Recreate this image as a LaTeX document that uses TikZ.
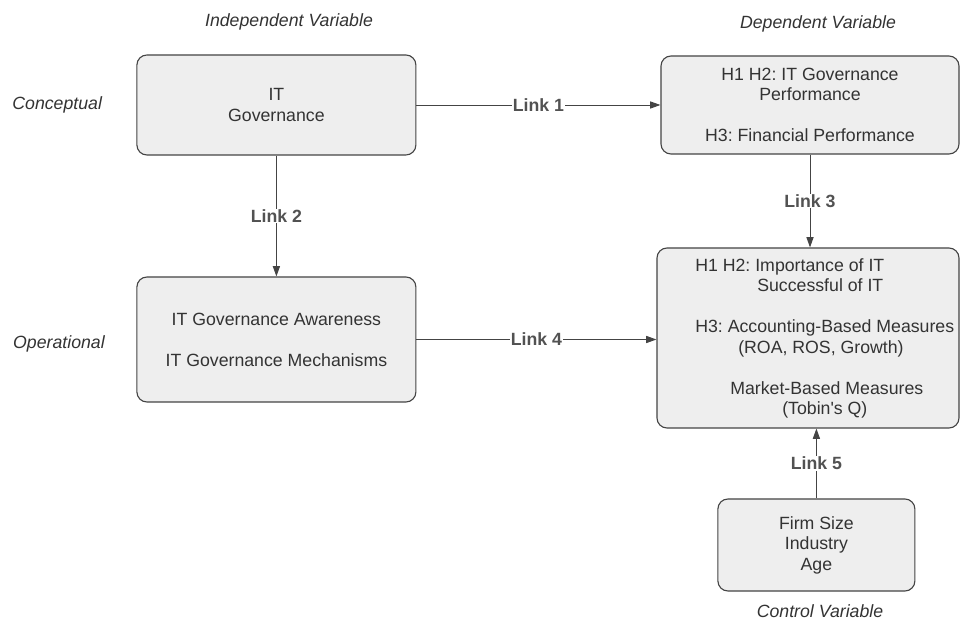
\documentclass[tikz,border=0pt]{standalone}
\usepackage{fontspec}
\setmainfont{Liberation Sans}
\usetikzlibrary{arrows.meta}
\frenchspacing

\definecolor{boxfill}{HTML}{EEEEEE}
\definecolor{boxline}{HTML}{444444}
\definecolor{txtgray}{HTML}{333333}

\begin{document}
\begin{tikzpicture}[
        every node/.style={font=\fontsize{12.6}{14.6}\selectfont, text=txtgray},
        box/.style={draw=boxline, fill=boxfill, rounded corners=0.25cm, line width=0.8pt, align=center, inner sep=0pt},
        link/.style={draw=boxline, line width=0.7pt, -{Triangle[length=0.26cm, width=0.18cm]}},
        linklabel/.style={font=\fontsize{12.6}{14.6}\selectfont\bfseries, text=txtgray!85!white, fill=white, inner sep=0.5pt},
        side/.style={font=\fontsize{12.6}{14.6}\selectfont\itshape}
    ]

        \def\gap{14.6pt}

        \useasboundingbox (0, 0) rectangle (24.05, 15.5);

        % boxes
        \node[box, minimum width=6.975cm, minimum height=2.5cm] (gov) at (6.91, 12.875) {IT\\Governance};
        \node[box, minimum width=7.45cm, minimum height=2.45cm] (perf) at (20.25, 12.875)
            {H1 H2: IT Governance\\Performance\\[\gap]H3: Financial Performance};
        \node[box, minimum width=6.975cm, minimum height=3.125cm] (mech) at (6.91, 7.0125)
            {IT Governance Awareness\\[\gap]IT Governance Mechanisms};
        \node[box, minimum width=7.55cm, minimum height=4.5cm] (meas) at (20.2, 7.05) {};
        \node[box, minimum width=4.925cm, minimum height=2.3cm] (ctrl) at (20.41, 1.875) {Firm Size\\Industry\\Age};

        % text of the big box
        \node[anchor=west, align=left, inner sep=0pt] (meastext) at (17.375, 7.04)
            {H1 H2: Importance of IT\\
             \hspace*{1.55cm}Successful of IT\\[\gap]
             H3: Accounting-Based Measures\\
             \hspace*{1.075cm}(ROA, ROS, Growth)\\[\gap]
             \hspace*{0.875cm}Market-Based Measures\\
             \hspace*{2.175cm}(Tobin\textquotesingle s Q)};

        % side labels
        \node[side] (indep) at (7.225, 14.95) {Independent Variable};
        \node[side] (dep) at (20.45, 14.9) {Dependent Variable};
        \node[side] (concept) at (1.43, 12.875) {Conceptual};
        \node[side] (oper) at (1.475, 6.9) {Operational};
        \node[side] (control) at (20.5, 0.225) {Control Variable};

        % links
        \draw[link] (gov.east) -- node[linklabel] {Link 1} (perf.west);
        \draw[link] (gov.south) -- node[linklabel] {Link 2} (mech.north);
        \draw[link] (perf.south) -- node[linklabel] {Link 3} (perf.south |- meas.north);
        \draw[link] (mech.east) -- node[linklabel] {Link 4} (mech.east -| meas.west);
        \draw[link] (ctrl.north) -- node[linklabel] {Link 5} (ctrl.north |- meas.south);

    \end{tikzpicture}
\end{document}
